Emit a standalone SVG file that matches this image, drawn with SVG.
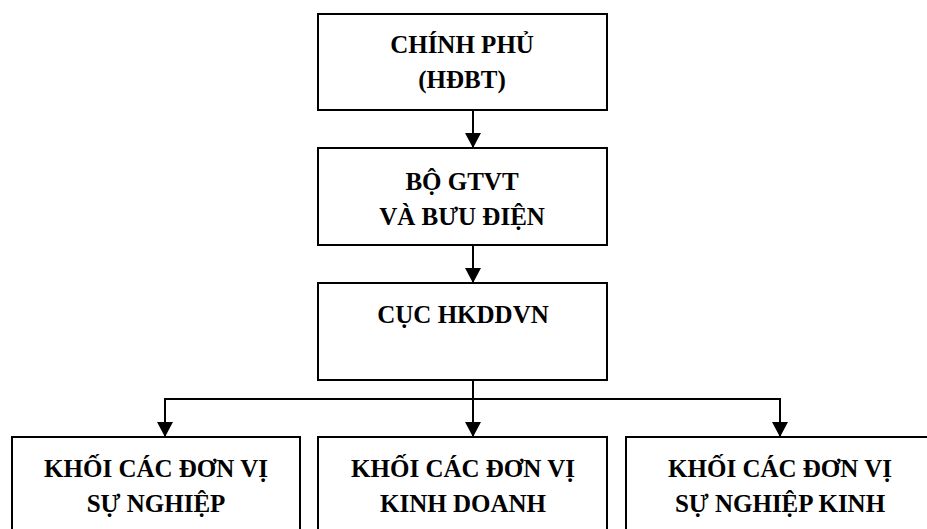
<svg xmlns="http://www.w3.org/2000/svg" width="927" height="529" viewBox="0 0 927 529">
<style>
.box{fill:#fff;stroke:#000;stroke-width:2}
.c{fill:none;stroke:#000;stroke-width:2}
</style>
<defs>
<marker id="ah" markerWidth="16" markerHeight="16" refX="15" refY="8" orient="auto" markerUnits="userSpaceOnUse">
<path d="M0,0 L15,8 L0,16 Z" fill="#000"/>
</marker>
</defs>
<rect width="927" height="529" fill="#fff"/>
<g id="connectors">
<line class="c" x1="473" y1="110" x2="473" y2="148" marker-end="url(#ah)"/>
<line class="c" x1="473" y1="245" x2="473" y2="283" marker-end="url(#ah)"/>
<line class="c" x1="473" y1="380" x2="473" y2="437" marker-end="url(#ah)"/>
<line class="c" x1="165" y1="399" x2="780" y2="399"/>
<line class="c" x1="165" y1="398" x2="165" y2="437" marker-end="url(#ah)"/>
<line class="c" x1="780" y1="398" x2="780" y2="437" marker-end="url(#ah)"/>
</g>
<g font-family="Times New Roman, Liberation Serif, serif" font-weight="bold" font-size="25" text-anchor="middle" fill="#000">
<g id="n1">
<rect class="box" x="318" y="14" width="289" height="96"/>
<text x="462" y="53">CHÍNH PHỦ</text>
<text x="462" y="88">(HĐBT)</text>
</g>
<g id="n2">
<rect class="box" x="318" y="148" width="289" height="97"/>
<text x="462" y="190">BỘ GTVT</text>
<text x="462" y="225">VÀ BƯU ĐIỆN</text>
</g>
<g id="n3">
<rect class="box" x="318" y="283" width="289" height="97"/>
<text x="463" y="323">CỤC HKDDVN</text>
</g>
<g id="n4">
<rect class="box" x="12" y="437" width="288" height="110"/>
<text x="156" y="477">KHỐI CÁC ĐƠN VỊ</text>
<text x="156" y="512">SỰ NGHIỆP</text>
</g>
<g id="n5">
<rect class="box" x="318" y="437" width="289" height="110"/>
<text x="463" y="477">KHỐI CÁC ĐƠN VỊ</text>
<text x="463" y="512">KINH DOANH</text>
</g>
<g id="n6">
<rect class="box" x="626" y="437" width="310" height="110"/>
<text x="780" y="477">KHỐI CÁC ĐƠN VỊ</text>
<text x="780" y="512">SỰ NGHIỆP KINH</text>
</g>
</g>
</svg>
